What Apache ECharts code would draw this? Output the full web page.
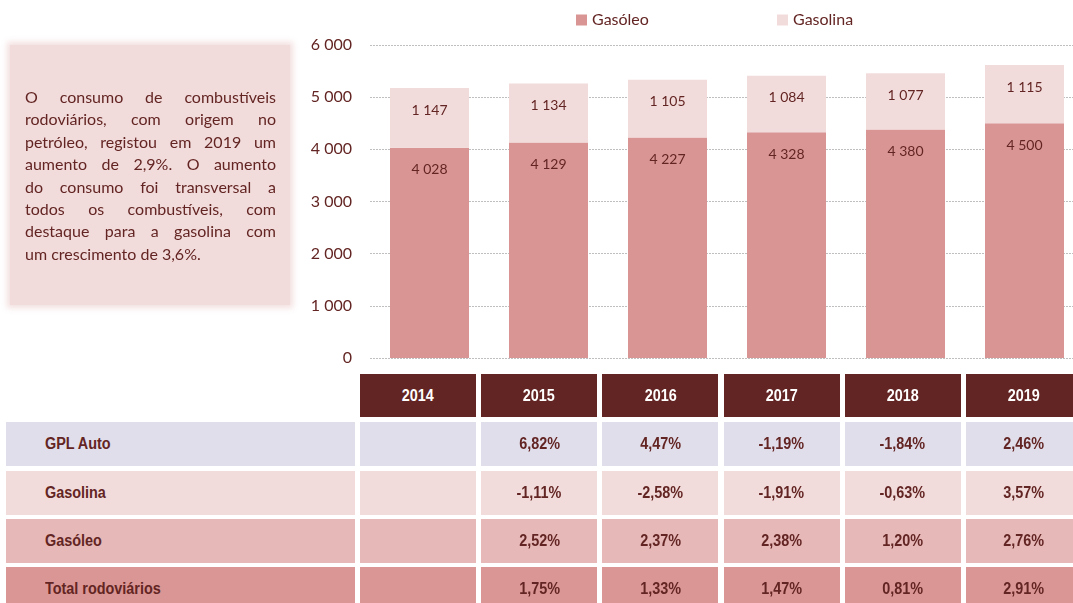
<!DOCTYPE html>
<html>
<head>
<meta charset="utf-8">
<script src="https://cdn.jsdelivr.net/npm/echarts@6/dist/echarts.min.js"></script>
<style>
  html, body { margin: 0; padding: 0; background: #fff; }
  #wrap { position: relative; width: 1073px; height: 603px; overflow: hidden; }
  #bar1 { position: absolute; left: 0; top: 0; width: 1100px; height: 603px; }
  #note {
    position: absolute; left: 10px; top: 45px; width: 280px; height: 260px;
    background: #F2DCDB; box-shadow: 0 0 6px 3px rgba(242,220,219,0.9);
    box-sizing: border-box; padding: 41px 14px 0 15px;
    font-family: Lato, "Noto Sans", sans-serif; font-size: 16px; line-height: 22.4px; color: #632523;
  }
  #note span { display: block; text-align: justify; text-align-last: justify; white-space: nowrap; }
  #note span.last { text-align-last: left; }
  .cell {
    position: absolute; box-sizing: border-box; display: flex; align-items: center; justify-content: center;
    font-family: "Liberation Sans", Arial, sans-serif;
    font-weight: bold; font-size: 16px; color: #632523;
  }
  .cell span { display: inline-block; transform: scaleX(0.9); white-space: nowrap; }
  .cell.lbl { justify-content: flex-start; padding-left: 39px; }
  .cell.lbl span { transform-origin: left center; }
  .cell.head { background: #632523; color: #fff; }
</style>
</head>
<body>
<div id="wrap">
  <div id="bar1"></div>
  <div id="note"></div>
  <div id="table"></div>
</div>
<script>
// dados do gráfico
let years = ['2014', '2015', '2016', '2017', '2018', '2019']
let gasoleo = [4028, 4129, 4227, 4328, 4380, 4500]
let gasolina = [1147, 1134, 1105, 1084, 1077, 1115]

// tabela de variações
let rowNames = ['GPL Auto', 'Gasolina', 'Gasóleo', 'Total rodoviários']
let gplAuto = ['', '6,82%', '4,47%', '-1,19%', '-1,84%', '2,46%']
let varGasolina = ['', '-1,11%', '-2,58%', '-1,91%', '-0,63%', '3,57%']
let varGasoleo = ['', '2,52%', '2,37%', '2,38%', '1,20%', '2,76%']
let totalRodo = ['', '1,75%', '1,33%', '1,47%', '0,81%', '2,91%']
let rowColors = ['#E1DEEB', '#F2DCDB', '#E6B8B7', '#DA9694']

let noteLines = [
  'O consumo de combustíveis',
  'rodoviários, com origem no',
  'petróleo, registou em 2019 um',
  'aumento de 2,9%. O aumento',
  'do consumo foi transversal a',
  'todos os combustíveis, com',
  'destaque para a gasolina com',
  'um crescimento de 3,6%.'
]

function fmt(n) {
  return String(n).replace(/\B(?=(\d{3})+(?!\d))/g, ' ')
}

// caixa de texto
let note = document.getElementById('note')
noteLines.forEach((l, i) => {
  let s = document.createElement('span')
  s.textContent = l
  if (i === noteLines.length - 1) s.className = 'last'
  note.appendChild(s)
})

// tabela
let table = document.getElementById('table')
function addCell(x, y, w, h, txt, cls, bg) {
  let d = document.createElement('div')
  d.className = 'cell ' + (cls || '')
  d.style.left = x + 'px'; d.style.top = y + 'px'
  d.style.width = w + 'px'; d.style.height = h + 'px'
  if (bg) d.style.background = bg
  let s = document.createElement('span')
  s.textContent = txt
  d.appendChild(s)
  table.appendChild(d)
}
let colX = years.map((y, i) => 360 + i * 121.2)
let colW = 116
years.forEach((y, i) => addCell(colX[i], 374, colW, 43, y, 'head'))
let rowTops = [422, 471, 519, 567]
let rowData = [gplAuto, varGasolina, varGasoleo, totalRodo]
rowNames.forEach((name, r) => {
  addCell(6, rowTops[r], 349, 44, name, 'lbl', rowColors[r])
  rowData[r].forEach((v, i) => addCell(colX[i], rowTops[r], colW, 44, v, '', rowColors[r]))
})

// gráfico
var myChart1 = echarts.init(document.getElementById('bar1'))
let labelStyle = {
  show: true,
  position: 'insideTop',
  distance: 15,
  color: '#632523',
  fontFamily: 'Lato',
  fontSize: 14,
  formatter: (p) => fmt(p.value)
}
myChart1.setOption({
  animation: false,
  textStyle: { fontFamily: 'Lato' },
  legend: [
    {
      data: ['Gasóleo'], left: 576, top: 12, padding: 0, itemWidth: 11, itemHeight: 11,
      icon: 'rect', textStyle: { color: '#632523', fontSize: 16, fontFamily: 'Lato' }
    },
    {
      data: ['Gasolina'], left: 777, top: 12, padding: 0, itemWidth: 11, itemHeight: 11,
      icon: 'rect', textStyle: { color: '#632523', fontSize: 16, fontFamily: 'Lato' }
    }
  ],
  grid: { left: 370, top: 45, width: 714, height: 313, containLabel: false },
  xAxis: {
    type: 'category',
    data: years,
    axisLine: { show: false },
    axisTick: { show: false },
    axisLabel: { show: false }
  },
  yAxis: {
    type: 'value',
    min: 0,
    max: 6000,
    interval: 1000,
    axisLine: { show: false },
    axisTick: { show: false },
    axisLabel: { color: '#632523', fontSize: 16, fontFamily: 'Lato', margin: 18, formatter: (v) => fmt(v) },
    splitLine: { lineStyle: { color: '#BFBFBF', type: [2, 1], width: 1 } }
  },
  series: [
    {
      name: 'Gasóleo',
      type: 'bar',
      stack: 'total',
      barWidth: 79,
      itemStyle: { color: '#D99594' },
      label: labelStyle,
      data: gasoleo
    },
    {
      name: 'Gasolina',
      type: 'bar',
      stack: 'total',
      barWidth: 79,
      itemStyle: { color: '#F2DCDB' },
      label: labelStyle,
      data: gasolina
    }
  ]
})
</script>
</body>
</html>
